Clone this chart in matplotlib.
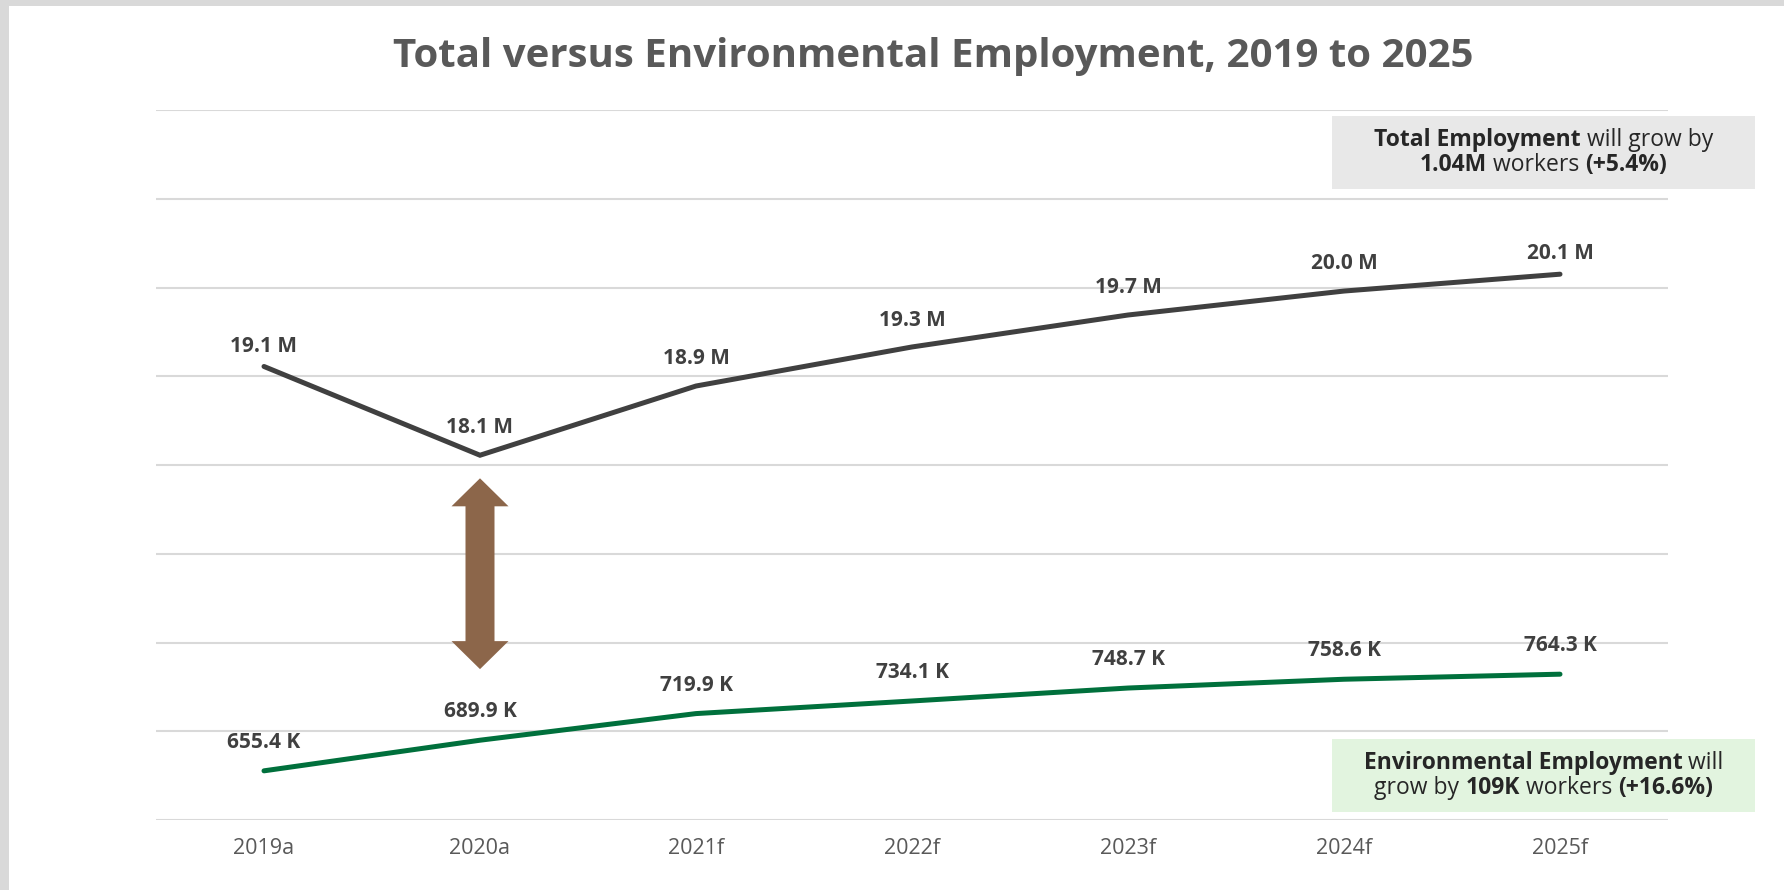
import matplotlib
matplotlib.use("Agg")
import matplotlib.pyplot as plt
from matplotlib.patches import Rectangle, Polygon

# ---- data ----
years = ["2019a", "2020a", "2021f", "2022f", "2023f", "2024f", "2025f"]
total_m = [19.11, 18.11, 18.89, 19.33, 19.69, 19.96, 20.15]
total_labels = ["19.1 M", "18.1 M", "18.9 M", "19.3 M", "19.7 M", "20.0 M", "20.1 M"]
env_k = [655.4, 689.9, 719.9, 734.1, 748.7, 758.6, 764.3]
env_labels = ["655.4 K", "689.9 K", "719.9 K", "734.1 K", "748.7 K", "758.6 K", "764.3 K"]
title = "Total versus Environmental Employment, 2019 to 2025"
total_note = [[("Total Employment", True), (" will grow by", False)],
              [("1.04M", True), (" workers ", False), ("(+5.4%)", True)]]
env_note = [[("Environmental Employment", True), (" will", False)],
            [("grow by ", False), ("109K", True), (" workers ", False), ("(+16.6%)", True)]]
arrow_top_m, arrow_bottom_m = 17.85, 15.70

# label placement (points above the marker)
total_label_offsets = [6.5, 12.5, 12.5, 11.5, 12.5, 12.5, 7.5]

FONT = "Open Sans"
W, H = 1784, 890
fig = plt.figure(figsize=(W / 100, H / 100), dpi=100)
fig.patch.set_facecolor("white")

# outer gray frame
fig.add_artist(Rectangle((0, 1 - 6 / H), 1, 6 / H, transform=fig.transFigure,
                         facecolor="#D9D9D9", edgecolor="none", zorder=0))
fig.add_artist(Rectangle((0, 0), 9 / W, 1, transform=fig.transFigure,
                         facecolor="#D9D9D9", edgecolor="none", zorder=0))

ax = fig.add_axes([156 / W, 70 / H, (1668 - 156) / W, (820 - 110) / H])
x = list(range(len(years)))
ax.set_xlim(-0.5, len(years) - 0.5)
ax.set_ylim(14, 22)
ax.set_yticks(range(14, 23))
ax.yaxis.grid(True, color="#D9D9D9", linewidth=1.5)
ax.set_axisbelow(True)
ax.set_xticks(x)
ax.set_xticklabels(years, fontfamily=FONT, fontsize=15.5, color="#595959")
for s in ax.spines.values():
    s.set_visible(False)
ax.patch.set_alpha(0)

ax.plot(x, total_m, color="#404040", lw=3.6, solid_capstyle="round", solid_joinstyle="miter", zorder=3)
for xi, yi, lab, off in zip(x, total_m, total_labels, total_label_offsets):
    ax.annotate(lab, (xi, yi), xytext=(0, off), textcoords="offset points",
                ha="center", va="bottom", fontfamily=FONT, fontsize=15,
                fontweight="bold", color="#404040")

ax2 = ax.twinx()
ax2.set_ylim(600, 1400)
ax2.set_xlim(-0.5, len(years) - 0.5)
ax2.axis("off")
ax2.plot(x, env_k, color="#00703C", lw=3.6, solid_capstyle="round", zorder=3)
for xi, yi, lab in zip(x, env_k, env_labels):
    ax2.annotate(lab, (xi, yi), xytext=(0, 13), textcoords="offset points",
                 ha="center", va="bottom", fontfamily=FONT, fontsize=15,
                 fontweight="bold", color="#404040")

ax.tick_params(axis="y", left=False, right=False, labelleft=False, labelright=False)
ax.tick_params(axis="x", length=0, pad=13)

# double-headed arrow at 2020a
fig.canvas.draw()
xc, ytop = ax.transData.transform((1, arrow_top_m))
_, ybot = ax.transData.transform((1, arrow_bottom_m))
sw, hw, hl = 14.5, 28.5, 28
pts = [(xc, ytop), (xc + hw, ytop - hl), (xc + sw, ytop - hl), (xc + sw, ybot + hl),
       (xc + hw, ybot + hl), (xc, ybot), (xc - hw, ybot + hl), (xc - sw, ybot + hl),
       (xc - sw, ytop - hl), (xc - hw, ytop - hl)]
fig.add_artist(Polygon(pts, closed=True, transform=None, facecolor="#8C664A",
                       edgecolor="none", zorder=4))

fig.text(933 / W, 1 - 57 / H, title, ha="center", va="center", fontfamily=FONT,
         fontsize=29, fontweight="bold", color="#595959")

renderer = fig.canvas.get_renderer()


def callout(x0, y0, x1, y1, color, lines, size=16.5):
    fig.add_artist(Rectangle((x0 / W, 1 - y1 / H), (x1 - x0) / W, (y1 - y0) / H,
                             transform=fig.transFigure, facecolor=color,
                             edgecolor="none", zorder=1))
    cx = (x0 + x1) / 2
    cy = (y0 + y1) / 2
    n = len(lines)
    gap = 25
    for i, parts in enumerate(lines):
        ly = cy + (i - (n - 1) / 2) * gap - 3
        widths = []
        for txt, b in parts:
            t = fig.text(0, 0, txt, fontfamily=FONT, fontsize=size,
                         fontweight="bold" if b else "normal")
            widths.append(t.get_window_extent(renderer).width)
            t.remove()
        total = sum(widths)
        start = cx - total / 2
        for (txt, b), w in zip(parts, widths):
            fig.text(start / W, 1 - ly / H, txt, ha="left", va="center_baseline",
                     fontfamily=FONT, fontsize=size, color="#262626",
                     fontweight="bold" if b else "normal", zorder=2)
            start += w


callout(1332, 116, 1755, 189, "#E8E8E8", total_note)
callout(1332, 739, 1755, 812, "#E2F4DF", env_note)

fig.savefig("out.png", dpi=100)
